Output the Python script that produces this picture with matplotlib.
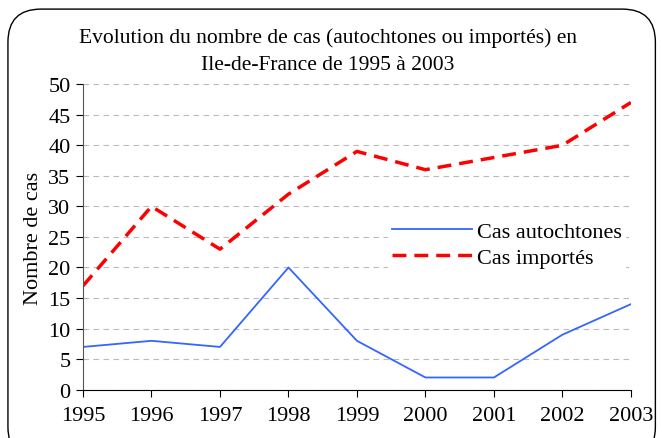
import matplotlib
matplotlib.use("Agg")
import matplotlib.pyplot as plt
from matplotlib.patches import FancyBboxPatch

years = [1995, 1996, 1997, 1998, 1999, 2000, 2001, 2002, 2003]
autochtones = [7, 8, 7, 20, 8, 2, 2, 9, 14]
importes = [17, 30, 23, 32, 39, 36, 38, 40, 47]
yticks = [0, 5, 10, 15, 20, 25, 30, 35, 40, 45, 50]

plt.rcParams['font.family'] = ['Liberation Serif', 'DejaVu Serif']

fig = plt.figure(figsize=(6.62, 4.39), dpi=100)
ax = fig.add_axes([0.1254, 0.110, 0.953 - 0.1254, 0.806 - 0.110])

border = FancyBboxPatch((0.012, -0.05), 0.978, 1.027, boxstyle="round,pad=0,rounding_size=0.05",
                        transform=fig.transFigure, fill=False, edgecolor='black', linewidth=1.0,
                        mutation_aspect=662/439)
fig.patches.append(border)

ax.plot(years, autochtones, color='#3366FF', linewidth=1.3, label='Cas autochtones')
ax.plot(years, importes, color='#FF0000', linewidth=2.5, dashes=(4, 2.3), label='Cas importés')

ax.set_xlim(1995, 2003)
ax.set_ylim(0, 50)
ax.set_yticks(yticks)
ax.set_xticks(years)
ax.yaxis.grid(True, color='#BBBBBB', linestyle=(0, (5, 4)), linewidth=0.8)
ax.set_axisbelow(True)
for s in ['top', 'right']:
    ax.spines[s].set_visible(False)
ax.spines['left'].set_color('#555555')
ax.spines['bottom'].set_color('black')
ax.tick_params(axis='both', direction='out', length=5, labelsize=16, width=0.8)
ax.tick_params(axis='x', pad=7)
ax.tick_params(axis='y', pad=4)
ax.set_ylabel('Nombre de cas', fontsize=16, labelpad=4)
fig.text(0.495, 0.882, 'Evolution du nombre de cas (autochtones ou importés) en\nIle-de-France de 1995 à 2003',
         ha='center', va='center', fontsize=15.5, linespacing=1.55)

leg = ax.legend(loc='center left', bbox_to_anchor=(0.536, 0.475), frameon=True, fontsize=16,
                handlelength=3.6, handletextpad=0.2, labelspacing=0.25, borderpad=0.2)
leg.get_frame().set_edgecolor('none')
leg.get_frame().set_facecolor('white')
leg.get_frame().set_alpha(1)

fig.savefig('out.png', dpi=100)
